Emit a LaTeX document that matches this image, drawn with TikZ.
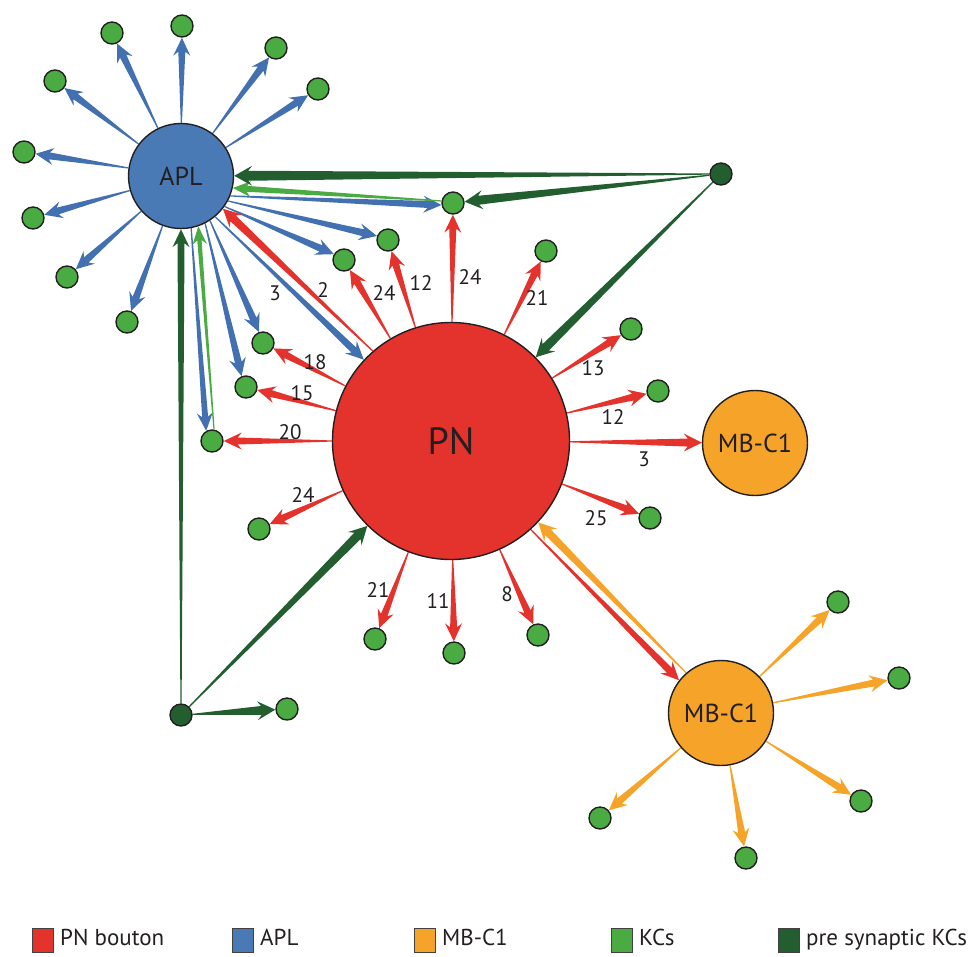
\documentclass[tikz,border=0pt]{standalone}
\usepackage{fontspec}
\setmainfont{PT Sans}
\usetikzlibrary{calc,positioning,backgrounds}

\definecolor{pnred}{RGB}{228,50,44}
\definecolor{aplblue}{RGB}{74,122,181}
\definecolor{edgeblue}{RGB}{66,112,176}
\definecolor{mborange}{RGB}{245,164,41}
\definecolor{kcgreen}{RGB}{74,171,67}
\definecolor{pregreen}{RGB}{35,94,49}
\definecolor{inkgray}{RGB}{35,31,32}

\tikzset{
  cell/.style={circle,draw=inkgray,line width=1.4pt,inner sep=0pt,text=inkgray},
  kc/.style={cell,fill=kcgreen,minimum size=22pt},
  prekc/.style={cell,fill=pregreen,minimum size=22pt},
  big/.style={cell,font=\fontsize{26}{30}\selectfont,minimum size=105pt},
  wt/.style={text=inkgray,font=\fontsize{21}{25}\selectfont,inner sep=0pt},
  legbox/.style={draw=inkgray!85,line width=1pt,minimum width=21pt,minimum height=24pt,inner sep=0pt},
  legtext/.style={text=inkgray,font=\fontsize{23}{27}\selectfont,inner sep=0pt,text height=16pt,text depth=5pt}
}

% tapered arrow: [end half width]{colour}{from}{to}
\newcommand{\taper}[4][3.5pt]{%
  \path (#3) -- (#4) coordinate[pos=0] (t0) coordinate[pos=1] (t1);
  \coordinate (tb) at ($(t1)!18pt!(t0)$);
  \coordinate (tn) at ($(t1)!14pt!(t0)$);
  \fill[#2] ($(t0)!0.6pt!90:(t1)$) -- ($(tn)!#1!-90:(t0)$)
    -- ($(tb)!{#1+5pt}!-90:(t0)$) -- (t1) -- ($(tb)!{#1+5pt}!90:(t0)$)
    -- ($(tn)!#1!90:(t0)$) -- ($(t0)!0.6pt!-90:(t1)$) -- cycle;
}

\begin{document}
\begin{tikzpicture}[x=1pt,y=-1pt]
\useasboundingbox (0,0) rectangle (968,956);

% main cells
\node[big,fill=aplblue] (APL) at (181,176) {APL};
\node[cell,fill=pnred,minimum size=237pt,font=\fontsize{38}{44}\selectfont] (PN) at (451,441) {PN};
\node[big,fill=mborange] (MBa) at (755,443) {MB-C1};
\node[big,fill=mborange] (MBb) at (721,713) {MB-C1};

% KCs
\foreach \n/\x/\y in {a1/112/33, a2/182/26, a3/276/48, a4/318/89, a5/55/81,
    a6/24/152, a7/33/218, a8/67/277, a9/127/322,
    s1/453/203, s2/388/240, s3/344/260, s4/263/343, s5/246/387, s6/212/441,
    p1/546/251, p2/631/329, p3/658/391, p4/650/518, p5/538/635, p6/454/653,
    p7/375/639, p8/259/529, r1/287/709,
    m1/838/602, m2/899/678, m3/861/801, m4/746/858, m5/600/818}
  \node[kc] (\n) at (\x,\y) {};
\node[prekc] (q1) at (721,174) {};
\node[prekc] (q2) at (181,715) {};

\begin{pgfonlayer}{background}
  % APL output
  \foreach \t in {a1,a2,a3,a4,a5,a6,a7,a8,a9} \taper{edgeblue}{APL}{\t};
  \taper{edgeblue}{APL.-22}{s1.190}
  \taper{edgeblue}{APL.-28}{s2.160}
  \taper{edgeblue}{APL.-35}{s3.150}
  \taper{edgeblue}{APL.-50}{PN.137}
  \taper{edgeblue}{APL.-57}{s4.110}
  \taper{edgeblue}{APL.-63}{s5.112}
  \taper[3pt]{edgeblue}{APL.-79}{s6.120}
  % KCs back to APL
  \taper[3pt]{kcgreen}{s1.170}{APL.-13}
  \taper[2.2pt]{kcgreen}{s6.80}{APL.-71}
  % PN output
  \foreach \t in {s1,s2,s3,s4,s5,s6,p1,p2,p3,p4,p5,p6,p7,p8} \taper{pnred}{PN}{\t};
  \taper[4pt]{pnred}{PN.131}{APL.-38}
  \taper[4pt]{pnred}{PN}{MBa}
  \taper{pnred}{PN.-48.6}{MBb.142.4}
  % MB-C1 output
  \taper[4pt]{mborange}{MBb.131.6}{PN.-43.8}
  \foreach \t in {m1,m2,m3,m4,m5} \taper{mborange}{MBb}{\t};
  % pre synaptic KCs
  \taper[5pt]{pregreen}{q1}{APL}
  \taper[4.5pt]{pregreen}{q1}{s1}
  \taper[4.5pt]{pregreen}{q1}{PN}
  \taper[3.5pt]{pregreen}{q2}{APL}
  \taper[4.5pt]{pregreen}{q2}{PN}
  \taper[4.5pt]{pregreen}{q2}{r1}
\end{pgfonlayer}

% synapse counts
\node[wt] (w1) at (275,293) {3};
\node[wt] (w2) at (323,290) {2};
\node[wt] (w3) at (384,293) {24};
\node[wt] (w4) at (421,283) {12};
\node[wt] (w5) at (470,277) {24};
\node[wt] (w6) at (537,298) {21};
\node[wt] (w7) at (593,368) {13};
\node[wt] (w8) at (613,417) {12};
\node[wt] (w9) at (644,459) {3};
\node[wt] (w10) at (596,518) {25};
\node[wt] (w11) at (507,594) {8};
\node[wt] (w12) at (438,601) {11};
\node[wt] (w13) at (378,590) {21};
\node[wt] (w14) at (303,495) {24};
\node[wt] (w15) at (290,432) {20};
\node[wt] (w16) at (302,393) {15};
\node[wt] (w17) at (315,362) {18};

% legend
\node[legbox,fill=pnred] (lg1) at (43,940) {};
\node[legtext,right=6pt of lg1] (lt1) {PN bouton};
\node[legbox,fill=aplblue] (lg2) at (243,940) {};
\node[legtext,right=6pt of lg2] (lt2) {APL};
\node[legbox,fill=mborange] (lg3) at (425,940) {};
\node[legtext,right=6pt of lg3] (lt3) {MB-C1};
\node[legbox,fill=kcgreen] (lg4) at (622,940) {};
\node[legtext,right=6pt of lg4] (lt4) {KCs};
\node[legbox,fill=pregreen] (lg5) at (789,940) {};
\node[legtext,right=6pt of lg5] (lt5) {pre synaptic KCs};
\end{tikzpicture}
\end{document}
